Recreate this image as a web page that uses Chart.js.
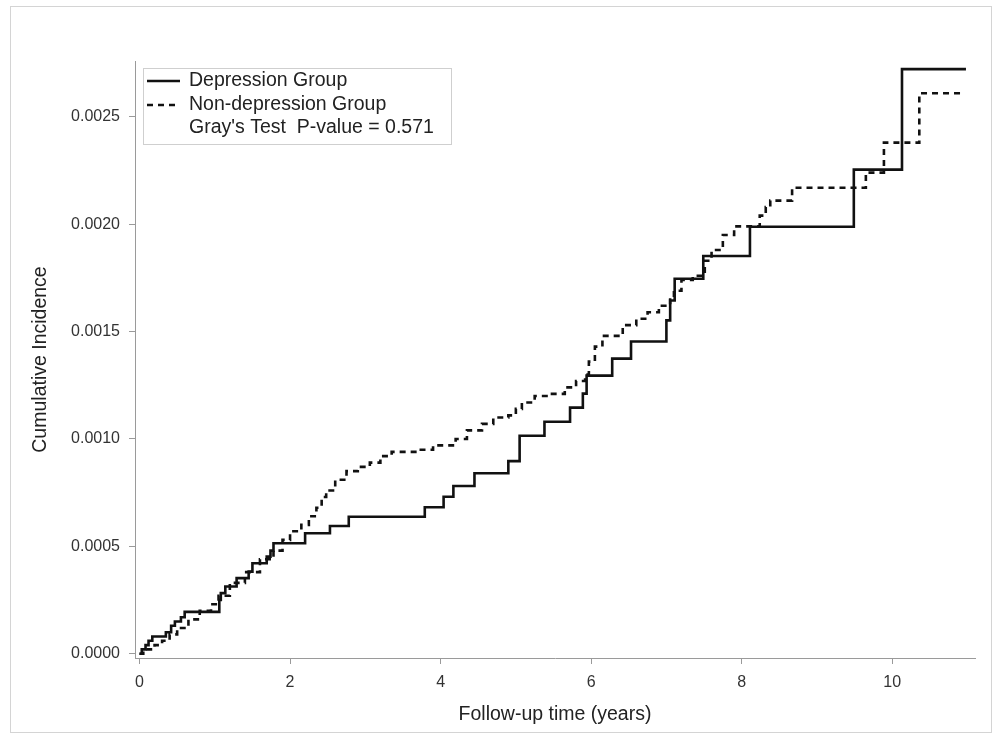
<!DOCTYPE html>
<html>
<head>
<meta charset="utf-8">
<script src="https://cdn.jsdelivr.net/npm/chart.js@4.4.1/dist/chart.umd.min.js"></script>
<style>
  html, body { margin: 0; padding: 0; background: #fff; }
  #wrap { width: 998px; height: 740px; }
</style>
</head>
<body>
<div id="wrap"><canvas id="cif" width="998" height="740"></canvas></div>
<script>
// Depression group: time of each jump (years) and cumulative incidence after it
const depTimes = [0, 0.03, 0.08, 0.12, 0.17, 0.35, 0.42, 0.47, 0.55, 0.6,
  1.06, 1.08, 1.14, 1.29, 1.45, 1.5, 1.69, 1.74, 1.78, 2.2, 2.53, 2.78,
  3.79, 4.04, 4.17, 4.45, 4.9, 5.05, 5.38, 5.72, 5.89, 5.94, 6.28, 6.53,
  7.0, 7.05, 7.11, 7.49, 8.11, 9.49, 10.13, 10.98];
const depValues = [0, 0.00002, 0.00004, 0.00006, 0.00008, 0.0001, 0.00013, 0.00015, 0.00017, 0.000195,
  0.00025, 0.000282, 0.000313, 0.000352, 0.000382, 0.000421, 0.000452, 0.00048, 0.000514, 0.000561, 0.000595, 0.000638,
  0.000682, 0.000731, 0.000781, 0.00084, 0.000897, 0.001015, 0.00108, 0.001146, 0.001211, 0.001295, 0.001374, 0.001454,
  0.001552, 0.001645, 0.001746, 0.001852, 0.001988, 0.002254, 0.002722, 0.002722];

// Non-depression group
const nonDepTimes = [0, 0.05, 0.2, 0.3, 0.4, 0.5, 0.65, 0.8, 0.95, 1.05,
  1.2, 1.4, 1.6, 1.78, 1.9, 2.0, 2.15, 2.25, 2.35, 2.42, 2.48, 2.6, 2.75,
  2.9, 3.06, 3.2, 3.35, 3.7, 3.9, 4.2, 4.35, 4.55, 4.7, 4.9, 5.0, 5.08,
  5.25, 5.45, 5.65, 5.8, 5.92, 5.97, 6.05, 6.15, 6.42, 6.6, 6.75, 6.9,
  7.05, 7.1, 7.2, 7.35, 7.51, 7.6, 7.75, 7.9, 8.24, 8.32, 8.38, 8.67,
  9.65, 9.89, 10.36, 10.92];
const nonDepValues = [0, 0.00002, 0.00004, 0.00006, 0.00009, 0.00012, 0.00016, 0.0002, 0.00023, 0.00027,
  0.00033, 0.00038, 0.00044, 0.00048, 0.00053, 0.00057, 0.0006, 0.00064, 0.00068, 0.00073, 0.00076, 0.00081, 0.00085,
  0.00087, 0.00089, 0.00092, 0.00094, 0.00095, 0.00097, 0.001, 0.00104, 0.00107, 0.0011, 0.00111, 0.00114, 0.00117,
  0.0012, 0.00121, 0.00124, 0.00127, 0.0013, 0.00136, 0.00143, 0.00148, 0.00153, 0.00156, 0.00159, 0.00162,
  0.00166, 0.00169, 0.00174, 0.00176, 0.00183, 0.00188, 0.00195, 0.00199, 0.00204, 0.00208, 0.00211, 0.00217,
  0.00224, 0.00238, 0.00261, 0.00261];

const xTicks = [0, 2, 4, 6, 8, 10];
const yTicks = [0, 0.0005, 0.001, 0.0015, 0.002, 0.0025];

const legendLines = ["Depression Group", "Non-depression Group", "Gray's Test  P-value = 0.571"];

const FONT = "'Liberation Sans', Arial, sans-serif";
const AXIS_GRAY = "#9a9a9a";

function toPoints(xs, ys) {
  return xs.map((x, i) => ({ x, y: ys[i] }));
}

/* -----------------------------------------------
   Frame around the whole figure + legend box
------------------------------------------------ */
const framePlugin = {
  id: "frame",
  beforeDraw(chart) {
    const ctx = chart.ctx;
    ctx.save();
    ctx.fillStyle = "#fff";
    ctx.fillRect(0, 0, chart.width, chart.height);
    ctx.strokeStyle = "#d4d4d4";
    ctx.lineWidth = 1;
    ctx.strokeRect(10.5, 6.5, 981, 726);
    ctx.restore();
  },
  afterDraw(chart) {
    const ctx = chart.ctx;
    const area = chart.chartArea;
    const bx = area.left + 8, by = area.top + 7;
    ctx.save();
    ctx.fillStyle = "#fff";
    ctx.fillRect(bx, by, 308, 76);
    ctx.strokeStyle = "#cfcfcf";
    ctx.lineWidth = 1;
    ctx.strokeRect(bx + 0.5, by + 0.5, 308, 76);

    ctx.font = "19.5px " + FONT;
    ctx.fillStyle = "#222";
    ctx.textBaseline = "middle";
    const rows = [by + 13, by + 37, by + 60];
    legendLines.forEach((txt, i) => {
      ctx.fillText(txt, bx + 46, rows[i]);
    });

    ctx.strokeStyle = "#111";
    ctx.lineWidth = 2.5;
    ctx.beginPath();
    ctx.moveTo(bx + 4, rows[0]);
    ctx.lineTo(bx + 37, rows[0]);
    ctx.stroke();
    ctx.setLineDash([6, 5]);
    ctx.beginPath();
    ctx.moveTo(bx + 4, rows[1]);
    ctx.lineTo(bx + 37, rows[1]);
    ctx.stroke();
    ctx.restore();
  }
};

new Chart(document.getElementById("cif"), {
  type: "line",
  data: {
    datasets: [
      {
        label: legendLines[0],
        data: toPoints(depTimes, depValues),
        borderColor: "#111",
        borderWidth: 2.6,
        stepped: "before",
        pointRadius: 0,
        fill: false
      },
      {
        label: legendLines[1],
        data: toPoints(nonDepTimes, nonDepValues),
        borderColor: "#111",
        borderWidth: 2.6,
        borderDash: [6, 5],
        stepped: "before",
        pointRadius: 0,
        fill: false
      }
    ]
  },
  options: {
    responsive: false,
    animation: false,
    events: [],
    layout: {
      autoPadding: false,
      padding: { left: 0, top: 61, right: 23, bottom: 0 }
    },
    plugins: {
      legend: { display: false },
      tooltip: { enabled: false }
    },
    scales: {
      x: {
        type: "linear",
        min: -0.06,
        max: 11.1,
        afterBuildTicks: scale => { scale.ticks = xTicks.map(v => ({ value: v })); },
        afterFit: scale => { scale.height = 82; },
        grid: { drawOnChartArea: false, drawTicks: true, tickLength: 6, color: AXIS_GRAY },
        border: { color: AXIS_GRAY, width: 1 },
        ticks: {
          color: "#333",
          padding: 9,
          maxRotation: 0,
          font: { family: FONT, size: 16 }
        },
        title: {
          display: true,
          text: "Follow-up time (years)",
          color: "#222",
          font: { family: FONT, size: 19.5 },
          padding: { top: 0, bottom: 14 }
        }
      },
      y: {
        type: "linear",
        min: -0.00002,
        max: 0.00276,
        afterBuildTicks: scale => { scale.ticks = yTicks.map(v => ({ value: v })); },
        afterFit: scale => { scale.width = 135; },
        grid: { drawOnChartArea: false, drawTicks: true, tickLength: 6, color: AXIS_GRAY },
        border: { color: AXIS_GRAY, width: 1 },
        ticks: {
          color: "#333",
          padding: 9,
          font: { family: FONT, size: 16 },
          callback: v => v.toFixed(4)
        },
        title: {
          display: true,
          text: "Cumulative Incidence",
          color: "#222",
          font: { family: FONT, size: 19.5 },
          padding: { top: 29, bottom: 0 }
        }
      }
    }
  },
  plugins: [framePlugin]
});
</script>
</body>
</html>
